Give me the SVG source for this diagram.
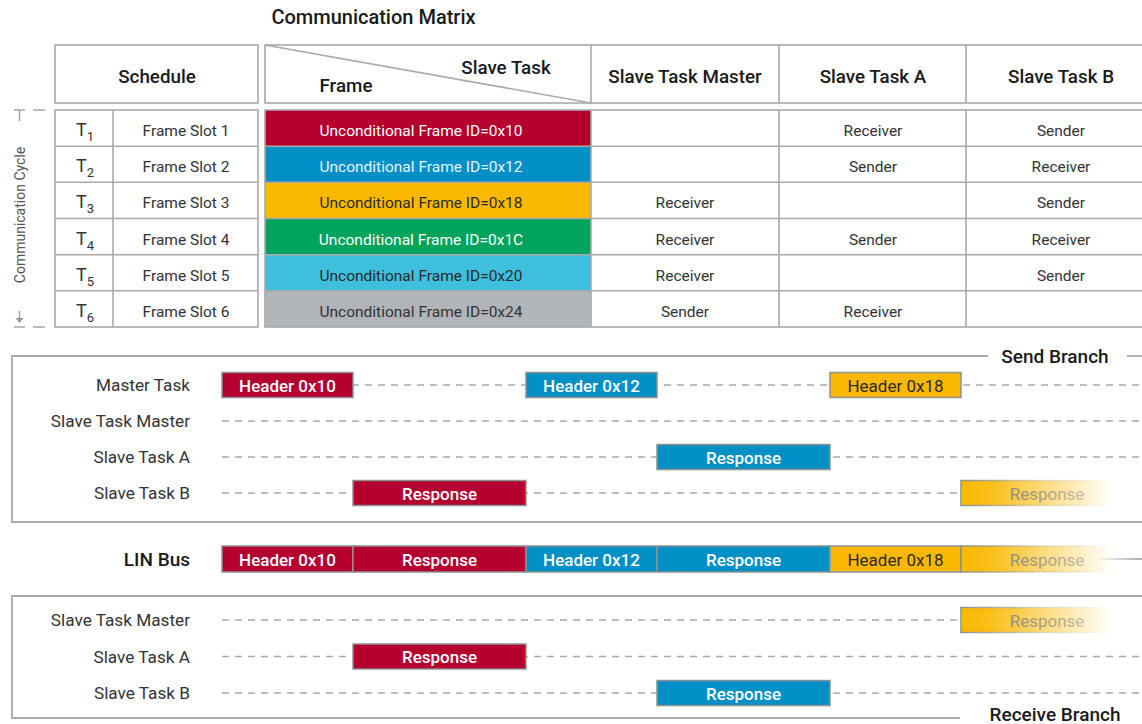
<svg xmlns="http://www.w3.org/2000/svg" width="1142" height="724" viewBox="0 0 1142 724">
<defs>
<style>
text{font-family:Roboto,"Liberation Sans",sans-serif;}
.grid{fill:none;stroke:#a7a9ab;stroke-width:1.6;}
.hdr{font-size:18.8px;font-weight:500;fill:#1a1a1a;text-anchor:middle;}
.cell{font-size:15.5px;fill:#333;text-anchor:middle;font-weight:400;}
.uf{font-size:15.5px;text-anchor:middle;font-weight:400;}
.lbl{font-size:17.2px;fill:#333;text-anchor:end;font-weight:400;}
.blk{stroke:#8e9194;stroke-width:1.5;}
.bt{font-size:17px;font-weight:500;text-anchor:middle;fill:#fff;}
.dash{stroke:#a7a9ab;stroke-width:1.5;stroke-dasharray:7 6;fill:none;}
.frame{stroke:#a7a9ab;stroke-width:1.8;fill:none;}
.big{font-size:19px;font-weight:500;fill:#1a1a1a;}
.red{fill:#b5002f;}
.blue{fill:#0090c6;}
.yel{fill:#fbb800;}
.grn{fill:#00a35c;}
.lblue{fill:#3ebfdd;}
.gray{fill:#b1b4b8;}
</style>
<linearGradient id="fade" gradientUnits="userSpaceOnUse" x1="961" y1="0" x2="1112" y2="0">
<stop offset="0" stop-color="#fbb800" stop-opacity="1"/>
<stop offset="0.2" stop-color="#fbb800" stop-opacity="0.9"/>
<stop offset="1" stop-color="#fbb800" stop-opacity="0"/>
</linearGradient>
<linearGradient id="fadeStroke" gradientUnits="userSpaceOnUse" x1="961" y1="0" x2="1112" y2="0">
<stop offset="0" stop-color="#8e9194" stop-opacity="1"/>
<stop offset="0.5" stop-color="#8e9194" stop-opacity="0.3"/>
<stop offset="1" stop-color="#8e9194" stop-opacity="0"/>
</linearGradient>
<linearGradient id="fadeText" gradientUnits="userSpaceOnUse" x1="1005" y1="0" x2="1090" y2="0">
<stop offset="0" stop-color="#8a8a8a" stop-opacity="1"/>
<stop offset="1" stop-color="#8a8a8a" stop-opacity="0.45"/>
</linearGradient>
<linearGradient id="fadeLine" gradientUnits="userSpaceOnUse" x1="1095" y1="0" x2="1142" y2="0">
<stop offset="0" stop-color="#8e9194" stop-opacity="0"/>
<stop offset="1" stop-color="#8e9194" stop-opacity="1"/>
</linearGradient>
</defs>

<g id="title">
<text class="big" x="373.5" y="24" style="text-anchor:middle;font-size:20px;">Communication Matrix</text>
</g>

<g id="matrix-header">
<rect class="grid" x="55" y="45" width="203" height="58"/>
<text class="hdr" x="157" y="83">Schedule</text>
<rect class="grid" x="265" y="45" width="895" height="58"/>
<line class="grid" x1="265" y1="45" x2="591" y2="103"/>
<line class="grid" x1="591" y1="45" x2="591" y2="103"/>
<line class="grid" x1="779" y1="45" x2="779" y2="103"/>
<line class="grid" x1="966" y1="45" x2="966" y2="103"/>
<text class="hdr" x="506" y="74">Slave Task</text>
<text class="hdr" x="346" y="92">Frame</text>
<text class="hdr" x="685" y="83">Slave Task Master</text>
<text class="hdr" x="873" y="83">Slave Task A</text>
<text class="hdr" x="1061" y="83">Slave Task B</text>
</g>

<g id="cycle-axis">
<line x1="14" y1="110" x2="25" y2="110" stroke="#9a9a9a" stroke-width="1.3"/>
<line x1="19.5" y1="110" x2="19.5" y2="121" stroke="#9a9a9a" stroke-width="1.3"/>
<line x1="33" y1="110" x2="45" y2="110" stroke="#9a9a9a" stroke-width="1.3"/>
<line x1="19.5" y1="311" x2="19.5" y2="322" stroke="#9a9a9a" stroke-width="1.3"/>
<path d="M15.5 318 L19.5 323 L23.5 318 Z" fill="#9a9a9a"/>
<line x1="14" y1="327" x2="25" y2="327" stroke="#9a9a9a" stroke-width="1.3"/>
<line x1="33" y1="327" x2="45" y2="327" stroke="#9a9a9a" stroke-width="1.3"/>
<text transform="translate(24.5 215) rotate(-90)" style="font-size:14px;fill:#555;text-anchor:middle;font-weight:400;">Communication Cycle</text>
</g>

<g id="schedule-table">
<rect class="grid" x="55" y="110" width="203" height="217"/>
<line class="grid" x1="113" y1="110" x2="113" y2="327"/>
<line class="grid" x1="55" y1="146.2" x2="258" y2="146.2"/>
<line class="grid" x1="55" y1="182.3" x2="258" y2="182.3"/>
<line class="grid" x1="55" y1="218.5" x2="258" y2="218.5"/>
<line class="grid" x1="55" y1="254.7" x2="258" y2="254.7"/>
<line class="grid" x1="55" y1="290.8" x2="258" y2="290.8"/>
<g style="font-size:18px;fill:#333;font-weight:400;">
<text x="76" y="136">T<tspan dy="5" style="font-size:13px;">1</tspan></text>
<text x="76" y="172">T<tspan dy="5" style="font-size:13px;">2</tspan></text>
<text x="76" y="208">T<tspan dy="5" style="font-size:13px;">3</tspan></text>
<text x="76" y="245">T<tspan dy="5" style="font-size:13px;">4</tspan></text>
<text x="76" y="281">T<tspan dy="5" style="font-size:13px;">5</tspan></text>
<text x="76" y="317">T<tspan dy="5" style="font-size:13px;">6</tspan></text>
</g>
<text class="cell" x="186" y="136">Frame Slot 1</text>
<text class="cell" x="186" y="172">Frame Slot 2</text>
<text class="cell" x="186" y="208">Frame Slot 3</text>
<text class="cell" x="186" y="245">Frame Slot 4</text>
<text class="cell" x="186" y="281">Frame Slot 5</text>
<text class="cell" x="186" y="317">Frame Slot 6</text>
</g>

<g id="frame-table">
<rect class="red" x="265" y="110" width="326" height="36.2"/>
<rect class="blue" x="265" y="146.2" width="326" height="36.1"/>
<rect class="yel" x="265" y="182.3" width="326" height="36.2"/>
<rect class="grn" x="265" y="218.5" width="326" height="36.2"/>
<rect class="lblue" x="265" y="254.7" width="326" height="36.1"/>
<rect class="gray" x="265" y="290.8" width="326" height="36.2"/>
<rect class="grid" x="265" y="110" width="895" height="217"/>
<line class="grid" x1="591" y1="110" x2="591" y2="327"/>
<line class="grid" x1="779" y1="110" x2="779" y2="327"/>
<line class="grid" x1="966" y1="110" x2="966" y2="327"/>
<line class="grid" x1="265" y1="146.2" x2="1142" y2="146.2"/>
<line class="grid" x1="265" y1="182.3" x2="1142" y2="182.3"/>
<line class="grid" x1="265" y1="218.5" x2="1142" y2="218.5"/>
<line class="grid" x1="265" y1="254.7" x2="1142" y2="254.7"/>
<line class="grid" x1="265" y1="290.8" x2="1142" y2="290.8"/>
<text class="uf" x="421" y="136" fill="#fff">Unconditional Frame ID=0x10</text>
<text class="uf" x="421" y="172" fill="#e8f6ff">Unconditional Frame ID=0x12</text>
<text class="uf" x="421" y="208" fill="#2a2a2a">Unconditional Frame ID=0x18</text>
<text class="uf" x="421" y="245" fill="#fff">Unconditional Frame ID=0x1C</text>
<text class="uf" x="421" y="281" fill="#2a2a2a">Unconditional Frame ID=0x20</text>
<text class="uf" x="421" y="317" fill="#333">Unconditional Frame ID=0x24</text>
<text class="cell" x="873" y="136">Receiver</text>
<text class="cell" x="1061" y="136">Sender</text>
<text class="cell" x="873" y="172">Sender</text>
<text class="cell" x="1061" y="172">Receiver</text>
<text class="cell" x="685" y="208">Receiver</text>
<text class="cell" x="1061" y="208">Sender</text>
<text class="cell" x="685" y="245">Receiver</text>
<text class="cell" x="873" y="245">Sender</text>
<text class="cell" x="1061" y="245">Receiver</text>
<text class="cell" x="685" y="281">Receiver</text>
<text class="cell" x="1061" y="281">Sender</text>
<text class="cell" x="685" y="317">Sender</text>
<text class="cell" x="873" y="317">Receiver</text>
</g>

<g id="send-branch">
<path class="frame" d="M988 356 H12 V522 H1142"/>
<line class="frame" x1="1127" y1="356" x2="1142" y2="356"/>
<text class="big" x="1055" y="363" style="text-anchor:middle;">Send Branch</text>
<text class="lbl" x="190" y="391">Master Task</text>
<text class="lbl" x="190" y="427">Slave Task Master</text>
<text class="lbl" x="190" y="463">Slave Task A</text>
<text class="lbl" x="190" y="499">Slave Task B</text>
</g>

<g id="connectors">
<line class="dash" x1="222" y1="385" x2="1142" y2="385"/>
<line class="dash" x1="222" y1="421" x2="1142" y2="421"/>
<line class="dash" x1="222" y1="457" x2="1142" y2="457"/>
<line class="dash" x1="222" y1="493" x2="961" y2="493"/>
<line class="dash" x1="222" y1="620" x2="961" y2="620"/>
<line class="dash" x1="222" y1="656.5" x2="1142" y2="656.5"/>
<line class="dash" x1="222" y1="693" x2="1142" y2="693"/>
<line x1="1095" y1="559" x2="1142" y2="559" stroke="url(#fadeLine)" stroke-width="1.5"/>
</g>

<g id="send-blocks">
<rect class="blk red" x="222" y="372.5" width="131" height="25"/>
<text class="bt" x="287.5" y="391.5">Header 0x10</text>
<rect class="blk blue" x="526" y="372.5" width="131" height="25"/>
<text class="bt" x="591.5" y="391.5">Header 0x12</text>
<rect class="blk yel" x="830" y="372.5" width="131" height="25"/>
<text class="bt" x="895.5" y="391.5" style="fill:#2a2a2a;font-weight:400;">Header 0x18</text>
<rect class="blk blue" x="657" y="444.5" width="173" height="25"/>
<text class="bt" x="743.5" y="463.5">Response</text>
<rect class="blk red" x="353" y="480.5" width="173" height="25"/>
<text class="bt" x="439.5" y="500">Response</text>
<rect x="961" y="480.5" width="151" height="25" fill="url(#fade)" stroke="url(#fadeStroke)" stroke-width="1.5"/>
<text x="1047" y="500" style="font-size:17px;text-anchor:middle;" fill="url(#fadeText)">Response</text>
</g>

<g id="lin-bus">
<text class="big" x="190" y="566" style="text-anchor:end;">LIN Bus</text>
<rect class="blk red" x="222" y="546" width="131" height="26"/>
<text class="bt" x="287.5" y="565.5">Header 0x10</text>
<rect class="blk red" x="353" y="546" width="173" height="26"/>
<text class="bt" x="439.5" y="565.5">Response</text>
<rect class="blk blue" x="526" y="546" width="131" height="26"/>
<text class="bt" x="591.5" y="565.5">Header 0x12</text>
<rect class="blk blue" x="657" y="546" width="173" height="26"/>
<text class="bt" x="743.5" y="565.5">Response</text>
<rect class="blk yel" x="830" y="546" width="131" height="26"/>
<text class="bt" x="895.5" y="565.5" style="fill:#2a2a2a;font-weight:400;">Header 0x18</text>
<rect x="961" y="546" width="151" height="26" fill="url(#fade)" stroke="url(#fadeStroke)" stroke-width="1.5"/>
<text x="1047" y="565.5" style="font-size:17px;text-anchor:middle;" fill="url(#fadeText)">Response</text>
</g>

<g id="receive-branch">
<path class="frame" d="M1142 596 H12 V718 H960"/>
<text class="big" x="1055" y="721" style="text-anchor:middle;">Receive Branch</text>
<text class="lbl" x="190" y="626">Slave Task Master</text>
<text class="lbl" x="190" y="662.5">Slave Task A</text>
<text class="lbl" x="190" y="699">Slave Task B</text>
</g>

<g id="receive-blocks">
<rect x="961" y="607.5" width="151" height="25" fill="url(#fade)" stroke="url(#fadeStroke)" stroke-width="1.5"/>
<text x="1047" y="626.5" style="font-size:17px;text-anchor:middle;" fill="url(#fadeText)">Response</text>
<rect class="blk red" x="353" y="644" width="173" height="25"/>
<text class="bt" x="439.5" y="663">Response</text>
<rect class="blk blue" x="657" y="680.5" width="173" height="25"/>
<text class="bt" x="743.5" y="699.5">Response</text>
</g>
</svg>
